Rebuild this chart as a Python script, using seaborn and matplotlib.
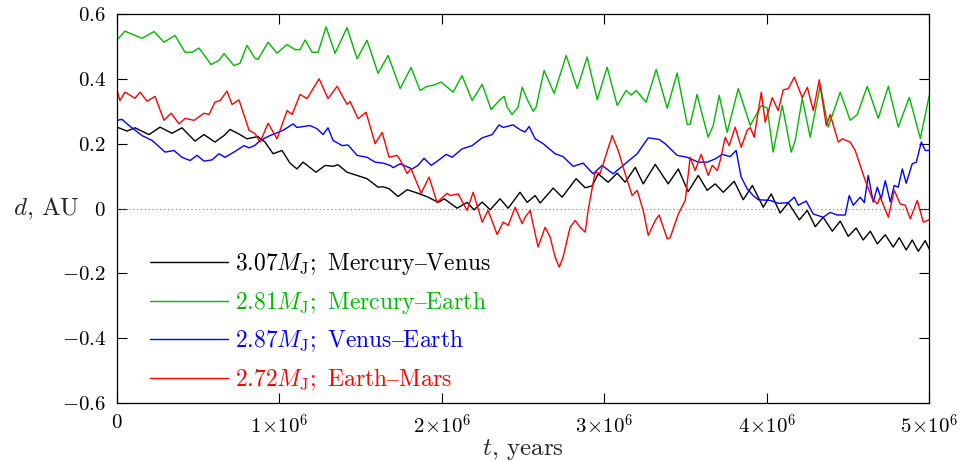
import numpy as np
import pandas as pd
import seaborn as sns
import matplotlib.pyplot as plt

# time in units of 1e6 years, d in AU (peaks and troughs)
t_mv = [0.000, 0.062, 0.111, 0.197, 0.265, 0.339, 0.400, 0.480, 0.536, 0.603,
        0.659, 0.696, 0.757, 0.800, 0.868, 0.911, 0.961, 1.016, 1.065, 1.108,
        1.145, 1.225, 1.281, 1.330, 1.361, 1.416, 1.478, 1.539, 1.607, 1.638,
        1.675, 1.730, 1.786, 1.853, 1.915, 1.977, 2.014, 2.094, 2.155, 2.198,
        2.248, 2.297, 2.358, 2.408, 2.481, 2.525, 2.574, 2.605, 2.685, 2.740,
        2.826, 2.882, 2.925, 2.962, 3.023, 3.079, 3.128, 3.190, 3.239, 3.313,
        3.393, 3.455, 3.516, 3.578, 3.633, 3.682, 3.732, 3.799, 3.855, 3.911,
        3.978, 4.027, 4.082, 4.132, 4.200, 4.249, 4.298, 4.347, 4.403, 4.452,
        4.501, 4.550, 4.593, 4.637, 4.680, 4.729, 4.778, 4.815, 4.858, 4.895,
        4.932, 4.975, 5.000]
d_mv = [0.251, 0.239, 0.249, 0.228, 0.251, 0.232, 0.249, 0.208, 0.228, 0.205,
        0.225, 0.244, 0.228, 0.215, 0.222, 0.205, 0.169, 0.179, 0.140, 0.122,
        0.143, 0.112, 0.133, 0.130, 0.135, 0.112, 0.102, 0.092, 0.066, 0.067,
        0.061, 0.037, 0.058, 0.047, 0.035, 0.019, 0.030, 0.001, 0.019, -0.004,
        0.020, -0.004, 0.030, 0.001, 0.050, 0.019, 0.040, 0.017, 0.063, 0.035,
        0.092, 0.064, 0.070, 0.107, 0.081, 0.109, 0.081, 0.127, 0.076, 0.136,
        0.076, 0.122, 0.052, 0.102, 0.056, 0.076, 0.050, 0.084, 0.027, 0.071,
        0.004, 0.045, -0.014, 0.018, -0.035, -0.006, -0.056, -0.027, -0.070, -0.039,
        -0.086, -0.060, -0.097, -0.070, -0.109, -0.081, -0.119, -0.090, -0.128, -0.097,
        -0.132, -0.099, -0.125]

t_me = [0.000, 0.049, 0.154, 0.228, 0.289, 0.357, 0.419, 0.462, 0.505, 0.579,
        0.628, 0.659, 0.720, 0.757, 0.800, 0.850, 0.868, 0.930, 0.985, 1.047,
        1.096, 1.127, 1.158, 1.201, 1.238, 1.287, 1.342, 1.416, 1.478, 1.539,
        1.607, 1.669, 1.743, 1.810, 1.866, 1.909, 1.946, 1.995, 2.069, 2.124,
        2.186, 2.248, 2.303, 2.358, 2.383, 2.401, 2.432, 2.469, 2.494, 2.525,
        2.562, 2.580, 2.629, 2.691, 2.765, 2.833, 2.894, 2.956, 3.017, 3.079,
        3.134, 3.165, 3.196, 3.257, 3.319, 3.387, 3.448, 3.510, 3.528, 3.571,
        3.590, 3.639, 3.670, 3.707, 3.756, 3.824, 3.898, 3.966, 4.002, 4.039,
        4.095, 4.150, 4.175, 4.218, 4.267, 4.329, 4.378, 4.452, 4.513, 4.557,
        4.587, 4.618, 4.686, 4.748, 4.809, 4.877, 4.945, 5.000]
d_me = [0.520, 0.547, 0.525, 0.546, 0.513, 0.534, 0.482, 0.482, 0.495, 0.444,
        0.457, 0.478, 0.441, 0.448, 0.503, 0.463, 0.460, 0.513, 0.479, 0.506,
        0.490, 0.490, 0.520, 0.482, 0.482, 0.560, 0.479, 0.558, 0.462, 0.519,
        0.417, 0.472, 0.370, 0.435, 0.364, 0.377, 0.380, 0.390, 0.359, 0.410,
        0.333, 0.383, 0.305, 0.336, 0.346, 0.313, 0.290, 0.313, 0.374, 0.336,
        0.300, 0.313, 0.426, 0.355, 0.472, 0.370, 0.467, 0.336, 0.436, 0.318,
        0.364, 0.350, 0.364, 0.328, 0.429, 0.309, 0.418, 0.259, 0.260, 0.352,
        0.313, 0.220, 0.256, 0.349, 0.235, 0.370, 0.256, 0.318, 0.310, 0.174,
        0.318, 0.174, 0.210, 0.340, 0.220, 0.380, 0.251, 0.359, 0.272, 0.290,
        0.333, 0.377, 0.278, 0.377, 0.251, 0.343, 0.216, 0.349]

t_ve = [0.000, 0.031, 0.074, 0.154, 0.216, 0.296, 0.351, 0.400, 0.450, 0.493,
        0.536, 0.585, 0.628, 0.665, 0.720, 0.782, 0.813, 0.850, 0.881, 0.942,
        1.022, 1.084, 1.108, 1.188, 1.232, 1.268, 1.299, 1.330, 1.386, 1.422,
        1.478, 1.539, 1.589, 1.638, 1.681, 1.700, 1.743, 1.817, 1.853, 1.890,
        1.934, 1.977, 2.026, 2.063, 2.124, 2.186, 2.248, 2.309, 2.352, 2.377,
        2.438, 2.481, 2.512, 2.537, 2.574, 2.623, 2.697, 2.746, 2.808, 2.869,
        2.931, 2.986, 3.054, 3.140, 3.202, 3.270, 3.337, 3.374, 3.448, 3.510,
        3.578, 3.633, 3.682, 3.725, 3.774, 3.811, 3.842, 3.879, 3.916, 3.947,
        4.021, 4.070, 4.132, 4.169, 4.193, 4.242, 4.286, 4.347, 4.390, 4.433,
        4.483, 4.507, 4.532, 4.575, 4.600, 4.624, 4.655, 4.680, 4.704, 4.729,
        4.760, 4.784, 4.809, 4.834, 4.858, 4.895, 4.920, 4.951, 4.975, 5.000]
d_ve = [0.272, 0.275, 0.256, 0.225, 0.210, 0.174, 0.179, 0.158, 0.148, 0.164,
        0.146, 0.150, 0.169, 0.158, 0.174, 0.194, 0.187, 0.195, 0.210, 0.225,
        0.241, 0.261, 0.250, 0.256, 0.246, 0.228, 0.249, 0.210, 0.194, 0.196,
        0.164, 0.158, 0.143, 0.140, 0.133, 0.126, 0.138, 0.122, 0.133, 0.155,
        0.133, 0.148, 0.167, 0.158, 0.184, 0.194, 0.218, 0.228, 0.258, 0.250,
        0.258, 0.243, 0.236, 0.253, 0.215, 0.200, 0.169, 0.160, 0.130, 0.140,
        0.107, 0.133, 0.107, 0.143, 0.169, 0.218, 0.213, 0.200, 0.164, 0.158,
        0.143, 0.143, 0.153, 0.167, 0.160, 0.179, 0.097, 0.061, 0.040, 0.027,
        0.025, 0.016, 0.018, 0.035, 0.010, 0.023, -0.017, -0.027, -0.012, -0.020,
        -0.020, 0.040, 0.010, 0.035, 0.018, 0.102, 0.020, 0.066, 0.030, 0.086,
        0.020, 0.071, 0.066, 0.122, 0.078, 0.138, 0.143, 0.205, 0.179, 0.179]

t_em = [0.000, 0.018, 0.049, 0.111, 0.142, 0.185, 0.234, 0.289, 0.333, 0.382,
        0.419, 0.474, 0.536, 0.567, 0.603, 0.634, 0.677, 0.708, 0.751, 0.813,
        0.850, 0.881, 0.930, 0.985, 1.047, 1.078, 1.127, 1.170, 1.244, 1.299,
        1.355, 1.416, 1.435, 1.484, 1.533, 1.589, 1.632, 1.675, 1.724, 1.743,
        1.786, 1.810, 1.872, 1.921, 1.970, 2.032, 2.050, 2.100, 2.155, 2.192,
        2.248, 2.284, 2.340, 2.377, 2.408, 2.451, 2.494, 2.512, 2.543, 2.592,
        2.635, 2.666, 2.697, 2.722, 2.746, 2.789, 2.820, 2.851, 2.882, 2.900,
        2.943, 2.974, 3.048, 3.085, 3.128, 3.171, 3.202, 3.239, 3.270, 3.313,
        3.337, 3.387, 3.405, 3.455, 3.498, 3.528, 3.559, 3.596, 3.639, 3.664,
        3.695, 3.713, 3.744, 3.768, 3.805, 3.842, 3.879, 3.898, 3.922, 3.966,
        3.990, 4.033, 4.070, 4.101, 4.132, 4.169, 4.218, 4.249, 4.286, 4.323,
        4.366, 4.390, 4.440, 4.464, 4.513, 4.544, 4.606, 4.649, 4.680, 4.698,
        4.748, 4.784, 4.821, 4.852, 4.883, 4.926, 4.963, 5.000]
d_em = [0.366, 0.333, 0.359, 0.340, 0.359, 0.331, 0.346, 0.272, 0.294, 0.261,
        0.278, 0.272, 0.294, 0.290, 0.328, 0.333, 0.362, 0.321, 0.335, 0.241,
        0.231, 0.205, 0.263, 0.215, 0.302, 0.290, 0.352, 0.339, 0.400, 0.339,
        0.377, 0.321, 0.330, 0.277, 0.297, 0.200, 0.235, 0.158, 0.164, 0.150,
        0.108, 0.123, 0.047, 0.097, 0.019, 0.047, 0.040, 0.045, -0.006, 0.050,
        -0.042, -0.006, -0.080, -0.042, -0.052, 0.004, -0.047, -0.027, -0.006, -0.119,
        -0.058, -0.088, -0.150, -0.181, -0.150, -0.058, -0.037, -0.058, -0.073, -0.006,
        0.112, 0.108, 0.225, 0.179, 0.107, 0.040, 0.056, -0.006, -0.083, -0.037,
        -0.020, -0.094, -0.090, -0.017, 0.025, 0.158, 0.117, 0.167, 0.102, 0.133,
        0.117, 0.148, 0.220, 0.194, 0.251, 0.189, 0.241, 0.250, 0.220, 0.359,
        0.266, 0.342, 0.302, 0.366, 0.370, 0.405, 0.342, 0.374, 0.302, 0.397,
        0.256, 0.290, 0.205, 0.215, 0.205, 0.179, 0.086, 0.030, 0.014, 0.035,
        -0.027, 0.056, 0.014, 0.010, -0.032, 0.025, -0.042, -0.035]

labels = [r'$3.07M_{\rm J};\ \mathrm{Mercury–Venus}$',
          r'$2.81M_{\rm J};\ \mathrm{Mercury–Earth}$',
          r'$2.87M_{\rm J};\ \mathrm{Venus–Earth}$',
          r'$2.72M_{\rm J};\ \mathrm{Earth–Mars}$']
colors = ['#000000', '#00b900', '#0000ff', '#ff0000']

yticks = [-0.6, -0.4, -0.2, 0, 0.2, 0.4, 0.6]
ytick_labels = [r'$-0.6$', r'$-0.4$', r'$-0.2$', r'$0$', r'$0.2$', r'$0.4$', r'$0.6$']
xticks = [0, 1e6, 2e6, 3e6, 4e6, 5e6]
xtick_labels = [r'$0$', r'$1\!\times\!10^6$', r'$2\!\times\!10^6$',
                r'$3\!\times\!10^6$', r'$4\!\times\!10^6$', r'$5\!\times\!10^6$']

# long table for seaborn
parts = []
for lab, t, d in zip(labels, [t_mv, t_me, t_ve, t_em], [d_mv, d_me, d_ve, d_em]):
    parts.append(pd.DataFrame({'t': np.array(t) * 1e6, 'd': d, 'pair': lab}))
df = pd.concat(parts, ignore_index=True)

sns.set_style('ticks')
plt.rcParams['font.family'] = ['cmr10', 'DejaVu Serif']
plt.rcParams['mathtext.fontset'] = 'cm'
plt.rcParams['axes.unicode_minus'] = False

fig = plt.figure(figsize=(9.62, 4.61), dpi=100)
ax = fig.add_axes([0.1216, 0.1258, 0.8444, 0.8438])

ax.axhline(0, color='#777777', lw=0.8, ls=(0, (1, 2.5)), zorder=1)
sns.lineplot(data=df, x='t', y='d', hue='pair', palette=dict(zip(labels, colors)),
             estimator=None, sort=False, lw=1.0, ax=ax)

ax.set_xlim(0, 5e6)
ax.set_ylim(-0.6, 0.6)
ax.set_xticks(xticks)
ax.set_xticklabels(xtick_labels)
ax.set_yticks(yticks)
ax.set_yticklabels(ytick_labels)
ax.tick_params(direction='in', length=7, width=0.8, top=True, right=True,
               labelsize=15, pad=8, colors='black')
for s in ax.spines.values():
    s.set_linewidth(0.9)
    s.set_color('black')

ax.set_xlabel(r'$t$, years', fontsize=18)
ax.xaxis.set_label_coords(0.5, -0.12)
ax.xaxis.label.set_va('center')
ax.set_ylabel(r'$d$, AU', fontsize=18, rotation=0)
ax.yaxis.set_label_coords(-0.087, 0.5)
ax.yaxis.label.set_va('center')
ax.yaxis.label.set_ha('center')

leg = ax.legend(loc='lower left', bbox_to_anchor=(0.015, -0.028), frameon=False,
                fontsize=17, handlelength=3.3, handletextpad=0.3,
                labelspacing=0.5, labelcolor='linecolor')

fig.savefig('out.png', dpi=100)
